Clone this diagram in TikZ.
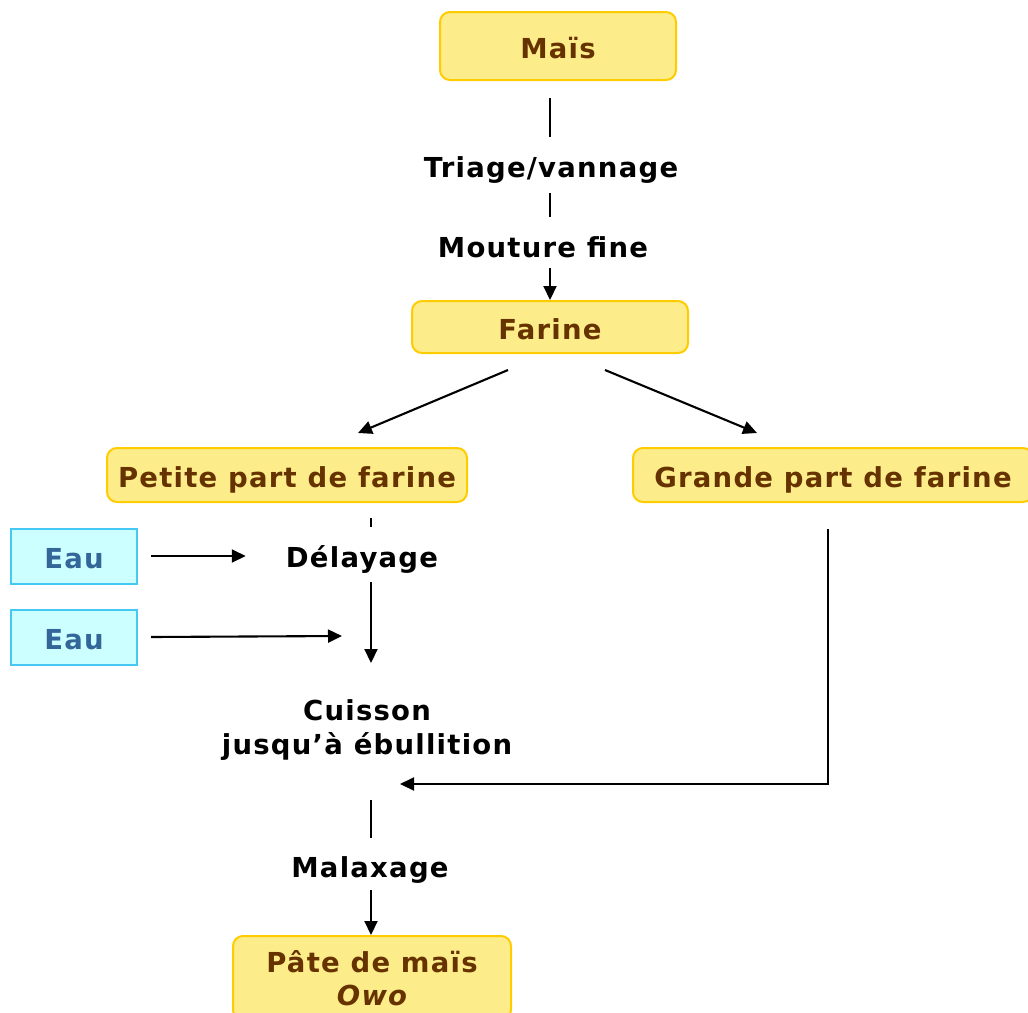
\documentclass[tikz,border=0pt]{standalone}
\usepackage{fontspec}
\setmainfont{DejaVu Sans}[LetterSpace=4.5]
\usetikzlibrary{arrows.meta,calc}
\definecolor{boxfill}{RGB}{252,236,138}
\definecolor{boxline}{RGB}{255,204,0}
\definecolor{boxtext}{RGB}{102,51,0}
\definecolor{eaufill}{RGB}{204,255,255}
\definecolor{eauline}{RGB}{70,200,245}
\definecolor{eautext}{RGB}{51,102,153}
\tikzset{
  x=1pt, y=-1pt,
  every node/.style={font=\bfseries\fontsize{27.5}{34}\selectfont},
  prodbox/.style={draw=boxline, fill=boxfill, line width=2pt, rounded corners=10pt,
    text=boxtext, minimum height=#1, inner sep=0pt},
  prodbox/.default=52pt,
  oneline/.style={text height=26pt, text depth=2pt},
  eaubox/.style={draw=eauline, fill=eaufill, line width=2pt, text=eautext,
    minimum width=126pt, minimum height=55pt, inner sep=0pt, oneline},
  stage/.style={text=black, inner sep=0pt, text height=20pt, text depth=6pt, anchor=base},
  flow/.style={line width=2.1pt, draw=black},
  tip/.style={flow, -{Triangle[length=14pt,width=13pt]}}
}
\begin{document}
\begin{tikzpicture}
\useasboundingbox (0,0) rectangle (1028,1012);
\clip (0,0) rectangle (1028,1012);

% products
\node[prodbox=68pt, minimum width=236pt, oneline] (mais) at (558,46) {Maïs};
\node[prodbox, minimum width=276pt, oneline] (farine) at (550,327) {Farine};
\node[prodbox=54pt, minimum width=360pt, oneline] (petite) at (287,475) {Petite part de farine};
\node[prodbox=54pt, minimum width=400pt, oneline] (grande) at (833,475) {Grande part de farine};
\node[prodbox=84pt, minimum width=278pt, align=center, anchor=north] (pate) at (372,935)
  {Pâte de maïs\\[-1pt]{\itshape Owo}};

% water inputs
\node[eaubox] (eau1) at (74,556) {Eau};
\node[eaubox] (eau2) at (74,637) {Eau};

% operations
\node[stage] (triage) at (551,177) {Triage/vannage};
\node[stage] (mouture) at (543,257) {Mouture fine};
\node[stage] (delayage) at (362,567) {Délayage};
\node[text=black, inner sep=0pt, align=center, anchor=north] (cuisson) at (367,699)
  {Cuisson\\jusqu’à ébullition};
\node[stage] (malaxage) at (370,877) {Malaxage};

% points where the flows merge
\coordinate (mix) at (342,636);
\coordinate (join) at (400,784);

% main line
\draw[flow] ([yshift=-17pt]mais.south -| 550,0) -- ([yshift=20pt]triage.north -| 550,0);
\draw[flow] ([yshift=-10pt]triage.south -| 550,0) -- ([yshift=20pt]mouture.north -| 550,0);
\draw[tip] ([yshift=-5pt]mouture.south -| 550,0) -- (farine.north -| 550,0);

\draw[tip] ([xshift=-42pt,yshift=-16pt]farine.south) -- ([xshift=71pt,yshift=14pt]petite.north);
\draw[tip] ([xshift=55pt,yshift=-16pt]farine.south) -- ([xshift=-76pt,yshift=14pt]grande.north);

\draw[flow] ([yshift=-15pt]petite.south -| 371,0) -- ([yshift=20pt]delayage.north -| 371,0);
\draw[tip] ([yshift=-9pt]delayage.south -| 371,0) -- ([yshift=36pt]cuisson.north -| 371,0);
\draw[tip] ([xshift=13pt]eau1.east) -- ([xshift=-40pt]delayage.west |- eau1);
\draw[tip] ([xshift=13pt]eau2.east) -- (mix);

\draw[tip] ([yshift=-26pt]grande.south -| 828,0) |- (join);

\draw[flow] ([yshift=-40pt]cuisson.south -| 371,0) -- ([yshift=19pt]malaxage.north -| 371,0);
\draw[tip] ([yshift=-7pt]malaxage.south -| 371,0) -- (pate.north -| 371,0);
\end{tikzpicture}
\end{document}
